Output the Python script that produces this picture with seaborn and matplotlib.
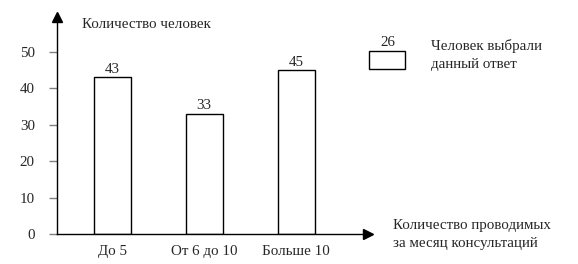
import matplotlib
matplotlib.use('Agg')
import matplotlib.pyplot as plt
import seaborn as sns
import pandas as pd
from matplotlib.patches import Rectangle

categories = ['До 5', 'От 6 до 10', 'Больше 10']
values = [43, 33, 45]
y_ticks = [0, 10, 20, 30, 40, 50]

y_label = 'Количество человек'
x_label = 'Количество проводимых\nза месяц консультаций'
legend_value = '26'
legend_text = 'Человек выбрали\nданный ответ'

sns.set_style('white')
plt.rcParams['font.family'] = ['Liberation Serif', 'DejaVu Serif']
FS = 10.8

W, H = 578, 264
fig = plt.figure(figsize=(W / 100, H / 100), dpi=100)
# plot area in pixels: x 57..368, y 17..234
x0, x1, y0, y1 = 57, 368, 17, 234.3
ax = fig.add_axes([x0 / W, 1 - y1 / H, (x1 - x0) / W, (y1 - y0) / H])

df = pd.DataFrame({'cat': categories, 'val': values})
sns.barplot(data=df, x='cat', y='val', ax=ax, width=0.4,
            color='white', edgecolor='black', linewidth=1)
ax.bar_label(ax.containers[0], padding=1, fontsize=FS)

ax.set_xlim(-0.6, 2.78)
ax.set_ylim(0, 59.5)

for s in ['top', 'right']:
    ax.spines[s].set_visible(False)
for s in ['left', 'bottom']:
    ax.spines[s].set_color('black')
    ax.spines[s].set_linewidth(1)

# arrow heads
ax.plot(1, 0, '>k', markersize=6.5, transform=ax.transAxes, clip_on=False)
ax.plot(0, 1, '^k', markersize=6.5, transform=ax.transAxes, clip_on=False)

ax.set_yticks(y_ticks)
ax.tick_params(axis='y', direction='out', length=6, width=1, color='#808080',
               pad=10, labelsize=FS, left=True)
ax.tick_params(axis='x', length=0, pad=8, labelsize=FS)
ax.set_xlabel('')
ax.set_ylabel('')

fig.text(82 / W, 1 - 25 / H, y_label, fontsize=FS, ha='left', va='center')
fig.text(393 / W, 1 - 234.5 / H, x_label, fontsize=FS, ha='left', va='center',
         linespacing=1.4)

# legend
fig.patches.append(Rectangle((369 / W, 1 - 69.3 / H), 36 / W, 18 / H,
                             transform=fig.transFigure, facecolor='white',
                             edgecolor='black', linewidth=1))
fig.text(387.5 / W, 1 - 42 / H, legend_value, fontsize=FS, ha='center', va='center')
fig.text(431 / W, 1 - 55 / H, legend_text, fontsize=FS, ha='left', va='center',
         linespacing=1.45)

fig.savefig('out.png', dpi=100)
